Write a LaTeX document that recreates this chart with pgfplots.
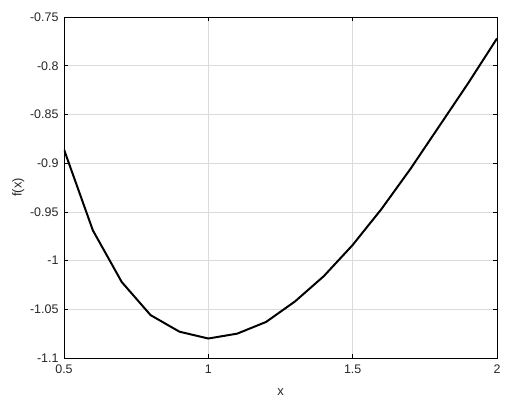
\documentclass[border=0pt]{standalone}
\usepackage{pgfplots}
\pgfplotsset{compat=1.18}
\usepackage{fontspec}
\setmainfont{Liberation Sans}
\begin{document}
\begin{tikzpicture}
\begin{axis}[
  scale only axis,
  width=433bp, height=341bp,
  xmin=0.5, xmax=2, ymin=-1.1, ymax=-0.75,
  xtick={0.5,1,1.5,2},
  ytick={-1.1,-1.05,-1,-0.95,-0.9,-0.85,-0.8,-0.75},
  yticklabels={-1.1,-1.05,-1,-0.95,-0.9,-0.85,-0.8,-0.75},
  xticklabels={0.5,1,1.5,2},
  tick align=inside,
  major tick length=4bp,
  tick style={black, line width=0.6pt},
  xtick pos=both, ytick pos=both,
  grid=major,
  grid style={gray!28, line width=0.5pt},
  axis line style={black, line width=0.7pt},
  tick label style={font=\fontsize{12.5}{14}\selectfont, text=black!85},
  label style={font=\fontsize{13}{15}\selectfont, text=black!85},
  xticklabel style={yshift=-3bp},
  yticklabel style={xshift=-2bp},
  xlabel={x}, ylabel={f(x)},
  xlabel style={yshift=-8bp},
  ylabel style={yshift=-1bp},
  /pgf/number format/assume math mode=true,
]
\addplot[black, line width=2pt, line join=round] coordinates {
(0.5,-0.886) (0.6,-0.969) (0.7,-1.022) (0.8,-1.056) (0.9,-1.073)
(1.0,-1.080) (1.1,-1.075) (1.2,-1.063) (1.3,-1.042) (1.4,-1.016)
(1.5,-0.984) (1.6,-0.947) (1.7,-0.906) (1.8,-0.862) (1.9,-0.818) (2.0,-0.772)
};
\end{axis}
\pgfresetboundingbox
\path (current axis.south west) ++(-64bp,-44bp) coordinate (bl);
\path (current axis.north east) ++(15bp,17bp) coordinate (tr);
\useasboundingbox (bl) rectangle (tr);
\end{tikzpicture}
\end{document}
